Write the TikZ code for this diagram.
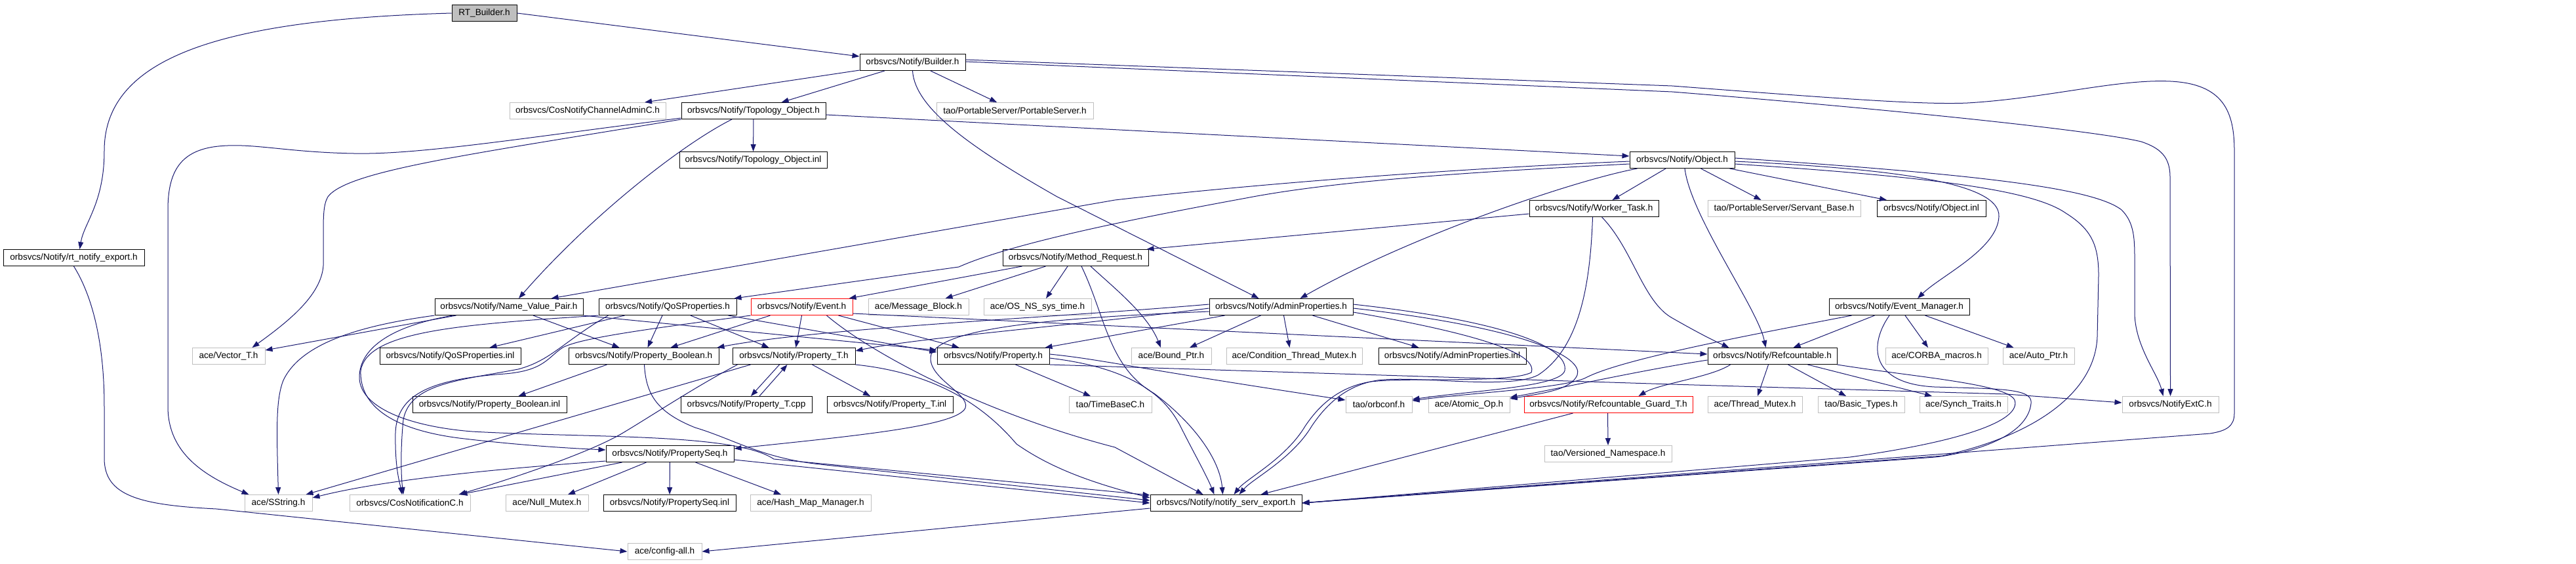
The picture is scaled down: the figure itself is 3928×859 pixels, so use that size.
\documentclass[tikz,border=0pt]{standalone}
\usepackage{fontspec}
\setmainfont{Liberation Sans}
\usetikzlibrary{arrows.meta,calc}
\definecolor{ecol}{HTML}{191970}
\definecolor{extgrey}{HTML}{BFBFBF}
\begin{document}
\begin{tikzpicture}[x=0.5pt,y=-0.5pt,
  box/.style={rectangle,draw=black,line width=0.5pt,inner sep=0pt,minimum height=12.5pt,font=\fontsize{6.8}{8}\selectfont,text=black},
  doc/.style={box},
  ext/.style={box,draw=extgrey},
  trunc/.style={box,draw=red},
  root/.style={box,fill=extgrey},
  wd/.style={minimum width=#1*0.5pt},
  e/.style={draw=ecol,line width=0.5pt,-{Triangle[length=5.5pt,width=4pt]}}]
\useasboundingbox (0,0) rectangle (3928,859);
% ---- nodes ----
\node[root,wd=99]  (rtb)      at (738.5,20)  {RT\_Builder.h};
\node[doc,wd=161]  (builder)  at (1391.5,95) {orbsvcs/Notify/Builder.h};
\node[ext,wd=238]  (cnca)     at (896,169)   {orbsvcs/CosNotifyChannelAdminC.h};
\node[doc,wd=220]  (topo)     at (1149,169)  {orbsvcs/Notify/Topology\_Object.h};
\node[ext,wd=239]  (pss)      at (1547.5,169){tao/PortableServer/PortableServer.h};
\node[doc,wd=225]  (topoinl)  at (1148.5,244){orbsvcs/Notify/Topology\_Object.inl};
\node[doc,wd=160]  (object)   at (2565,244)  {orbsvcs/Notify/Object.h};
\node[doc,wd=197]  (worker)   at (2430.5,318){orbsvcs/Notify/Worker\_Task.h};
\node[ext,wd=233]  (servant)  at (2720.5,318){tao/PortableServer/Servant\_Base.h};
\node[doc,wd=166]  (objinl)   at (2945,318)  {orbsvcs/Notify/Object.inl};
\node[doc,wd=215]  (rtexp)    at (112.5,393) {orbsvcs/Notify/rt\_notify\_export.h};
\node[doc,wd=222]  (methreq)  at (1640,393)  {orbsvcs/Notify/Method\_Request.h};
\node[doc,wd=226]  (nvp)      at (776,468)   {orbsvcs/Notify/Name\_Value\_Pair.h};
\node[doc,wd=210]  (qos)      at (1018,468)  {orbsvcs/Notify/QoSProperties.h};
\node[trunc,wd=155](event)    at (1222.5,468){orbsvcs/Notify/Event.h};
\node[ext,wd=153]  (msgblk)   at (1400.5,468){ace/Message\_Block.h};
\node[ext,wd=164]  (ostime)   at (1582,468)  {ace/OS\_NS\_sys\_time.h};
\node[doc,wd=219]  (admin)    at (1953.5,468){orbsvcs/Notify/AdminProperties.h};
\node[doc,wd=214]  (evmgr)    at (2896,468)  {orbsvcs/Notify/Event\_Manager.h};
\node[ext,wd=111]  (vector)   at (348.5,543) {ace/Vector\_T.h};
\node[doc,wd=215]  (qosinl)   at (686.5,543) {orbsvcs/Notify/QoSProperties.inl};
\node[doc,wd=229]  (propbool) at (981.5,543) {orbsvcs/Notify/Property\_Boolean.h};
\node[doc,wd=187]  (propt)    at (1210.5,543){orbsvcs/Notify/Property\_T.h};
\node[doc,wd=171]  (prop)     at (1514.5,543){orbsvcs/Notify/Property.h};
\node[ext,wd=122]  (boundptr) at (1786,543)  {ace/Bound\_Ptr.h};
\node[ext,wd=207]  (condmutex)at (1973.5,543){ace/Condition\_Thread\_Mutex.h};
\node[doc,wd=225]  (admininl) at (2214.5,543){orbsvcs/Notify/AdminProperties.inl};
\node[doc,wd=197]  (refc)     at (2702.5,543){orbsvcs/Notify/Refcountable.h};
\node[ext,wd=156]  (corba)    at (2953,543)  {ace/CORBA\_macros.h};
\node[ext,wd=109]  (autoptr)  at (3108.5,543){ace/Auto\_Ptr.h};
\node[doc,wd=235]  (propboolinl) at (746.5,617) {orbsvcs/Notify/Property\_Boolean.inl};
\node[doc,wd=200]  (proptcpp) at (1138,617)  {orbsvcs/Notify/Property\_T.cpp};
\node[doc,wd=192]  (proptinl) at (1357,617)  {orbsvcs/Notify/Property\_T.inl};
\node[ext,wd=126]  (timebase) at (1693,617)  {tao/TimeBaseC.h};
\node[ext,wd=101]  (orbconf)  at (2102.5,617){tao/orbconf.h};
\node[ext,wd=124]  (atomic)   at (2240,617)  {ace/Atomic\_Op.h};
\node[trunc,wd=257](guard)    at (2452.5,617){orbsvcs/Notify/Refcountable\_Guard\_T.h};
\node[ext,wd=144]  (threadmutex) at (2676,617) {ace/Thread\_Mutex.h};
\node[ext,wd=132]  (basictypes)  at (2838,617) {tao/Basic\_Types.h};
\node[ext,wd=134]  (synch)    at (2994,617)  {ace/Synch\_Traits.h};
\node[ext,wd=147]  (notifyext)at (3309.5,617){orbsvcs/NotifyExtC.h};
\node[doc,wd=195]  (propseq)  at (1021.5,692){orbsvcs/Notify/PropertySeq.h};
\node[ext,wd=194]  (versioned)at (2452,692)  {tao/Versioned\_Namespace.h};
\node[ext,wd=103]  (sstring)  at (424.5,767) {ace/SString.h};
\node[ext,wd=184]  (cosnotc)  at (625,767)   {orbsvcs/CosNotificationC.h};
\node[ext,wd=126]  (nullmutex)at (834,767)   {ace/Null\_Mutex.h};
\node[doc,wd=202]  (propseqinl) at (1021,767){orbsvcs/Notify/PropertySeq.inl};
\node[ext,wd=184]  (hashmap)  at (1236,767)  {ace/Hash\_Map\_Manager.h};
\node[doc,wd=231]  (servexp)  at (1869.5,767){orbsvcs/Notify/notify\_serv\_export.h};
\node[ext,wd=113]  (configall)at (1013.5,841){ace/config-all.h};
% ---- edges: RT_Builder / rt_notify_export ----
\draw[e] (rtb.east) -- ($(builder.west)+(0,-9)$);
\draw[e] (rtb.west) .. controls (330,30) and (159,90) .. (159,230) .. controls (159,310) and (128,340) .. ($(rtexp.north)+(9,0)$);
\draw[e] (rtexp.south) .. controls (140,450) and (159,520) .. (159,620) -- (159,700) .. controls (160,755) and (210,770) .. (330,776) -- (configall.west);
% ---- Builder ----
\draw[e] (builder) -- (cnca);
\draw[e] (builder) -- (topo);
\draw[e] (builder) -- (pss);
\draw[e] (builder.south) .. controls (1395,165) and (1480,225) .. (1612,300) -- ($(admin.north)+(-34,0)$);
\draw[e] ($(builder.east)+(0,-4)$) -- (2550,131) .. controls (2800,150) and (2930,160) .. (3000,157) .. controls (3120,150) and (3230,120) .. (3310,124) .. controls (3390,128) and (3407,170) .. (3407,230) -- (3407,630) .. controls (3407,650) and (3395,657) .. (3370,661) -- (servexp.east);
\draw[e] ($(builder.east)+(0,-1)$) -- (2550,140) .. controls (2900,168) and (3200,200) .. (3265,216) .. controls (3295,226) and (3309,240) .. (3309,270) -- (notifyext.north);
% ---- Topology_Object ----
\draw[e] (topo) -- (topoinl);
\draw[e] ($(topo.east)+(0,6)$) -- ($(object.west)+(0,-6)$);
\draw[e] ($(topo.south)+(-33,0)$) .. controls (1040,220) and (900,330) .. ($(nvp.north)+(15,0)$);
\draw[e] ($(topo.west)+(0,11)$) .. controls (800,210) and (640,236) .. (540,234) .. controls (430,232) and (380,216) .. (325,224) .. controls (275,232) and (256,262) .. (256,320) -- (256,620) .. controls (256,690) and (310,725) .. ($(sstring.north)+(-45,0)$);
\draw[e] ($(topo.west)+(0,13)$) .. controls (720,235) and (530,260) .. (500,300) .. controls (493,312) and (493,330) .. (493,360) -- (493,405) .. controls (490,450) and (440,490) .. ($(vector.north)+(36,0)$);
% ---- Object ----
\draw[e] ($(object.south)+(-25,0)$) -- ($(worker.north)+(28,0)$);
\draw[e] ($(object.south west)+(12,0)$) .. controls (2400,275) and (2150,360) .. ($(admin.north)+(29,0)$);
\draw[e] ($(object.west)+(0,2)$) .. controls (2200,258) and (1900,282) .. (1700,305) -- ($(nvp.north east)+(-49,0)$);
\draw[e] ($(object.west)+(0,6)$) .. controls (2250,262) and (2040,275) .. (1900,302) .. controls (1720,335) and (1540,372) .. (1462,407) -- ($(qos.north east)+(-4,0)$);
\draw[e] ($(object.south east)+(-52,0)$) -- ($(servant.north)+(-35,0)$);
\draw[e] ($(object.south east)+(-8,0)$) -- ($(objinl.north)+(-68,0)$);
\draw[e] ($(object.south)+(4,0)$) .. controls (2578,330) and (2680,470) .. ($(refc.north)+(-10,0)$);
\draw[e] ($(object.east)+(0,2)$) .. controls (2900,258) and (3050,280) .. (3048,330) .. controls (3046,380) and (2960,420) .. ($(evmgr.north)+(28,0)$);
\draw[e] ($(object.east)+(0,-3)$) .. controls (3000,265) and (3190,285) .. (3235,320) .. controls (3255,340) and (3255,365) .. (3255,400) -- (3255,480) .. controls (3257,530) and (3290,570) .. ($(notifyext.north)+(-11,0)$);
\draw[e] ($(object.east)+(0,6)$) .. controls (2950,270) and (3100,290) .. (3150,325) .. controls (3190,350) and (3200,375) .. (3200,420) -- (3198,513) .. controls (3195,600) and (3100,665) .. (2962,695) -- (servexp.east);
% ---- Worker_Task ----
\draw[e] ($(worker.west)+(0,8)$) -- ($(methreq.north east)+(-3,0)$);
\draw[e] ($(worker.south)+(12,0)$) .. controls (2490,380) and (2505,460) .. (2550,485) .. controls (2585,505) and (2610,518) .. ($(refc.north west)+(33,0)$);
\draw[e] ($(worker.south)+(-2,0)$) .. controls (2425,430) and (2410,530) .. (2345,572) .. controls (2300,595) and (2160,572) .. (2100,580) .. controls (2050,588) and (2020,620) .. (2000,650) .. controls (1970,700) and (1910,730) .. ($(servexp.north)+(20,0)$);
% ---- Method_Request ----
\draw[e] ($(methreq.south west)+(30,0)$) -- ($(event.north east)+(-6,0)$);
\draw[e] ($(methreq.south west)+(66,0)$) -- ($(msgblk.north)+(41,0)$);
\draw[e] ($(methreq.south)+(-12,0)$) -- ($(ostime.north)+(13,0)$);
\draw[e] ($(methreq.south)+(23,0)$) .. controls (1700,440) and (1750,480) .. ($(boundptr.north)+(-16,0)$);
\draw[e] ($(methreq.south)+(9,0)$) .. controls (1685,480) and (1690,560) .. (1760,600) .. controls (1820,645) and (1860,700) .. ($(servexp.north)+(-5,0)$);
% ---- Event ----
\draw[e] ($(event.south west)+(30,0)$) -- ($(propbool.north)+(41,0)$);
\draw[e] (event.south) -- ($(propt.north)+(3,0)$);
\draw[e] ($(event.south east)+(-22,0)$) -- ($(prop.north west)+(34,0)$);
\draw[e] ($(event.east)+(0,10)$) -- ($(refc.west)+(0,-3)$);
\draw[e] ($(event.south east)+(-40,0)$) .. controls (1330,540) and (1500,630) .. (1700,682) -- ($(servexp.north west)+(81,0)$);
\draw[e] (event.south west) .. controls (1000,500) and (885,515) .. (858,530) .. controls (835,545) and (830,565) .. (770,570) .. controls (660,578) and (605,600) .. (603,660) .. controls (602,715) and (610,738) .. ($(cosnotc.north)+(-12,0)$);
% ---- AdminProperties ----
\draw[e] ($(admin.south)+(-31,0)$) -- ($(boundptr.north)+(28,0)$);
\draw[e] ($(admin.south)+(4,0)$) -- ($(condmutex.north)+(-7,0)$);
\draw[e] ($(admin.south east)+(-62,0)$) -- ($(admininl.north)+(-51,0)$);
\draw[e] ($(admin.west)+(0,-4)$) .. controls (1600,485) and (1250,500) .. ($(propbool.north east)+(-3,0)$);
\draw[e] ($(admin.west)+(0,2)$) .. controls (1650,495) and (1400,515) .. ($(propt.east)+(0,-8)$);
\draw[e] ($(admin.south west)+(24,0)$) -- ($(prop.north east)+(-7,0)$);
\draw[e] ($(admin.west)+(0,7)$) .. controls (1600,485) and (1440,500) .. (1420,540) .. controls (1410,575) and (1480,600) .. (1472,622) .. controls (1460,650) and (1300,665) .. ($(propseq.east)+(0,-8)$);
\draw[e] ($(admin.east)+(0,-4)$) .. controls (2300,490) and (2392,530) .. (2386,565) .. controls (2380,590) and (2250,595) .. ($(orbconf.east)+(0,-8)$);
\draw[e] ($(admin.east)+(0,2)$) .. controls (2330,500) and (2415,545) .. (2405,572) .. controls (2395,595) and (2350,600) .. ($(atomic.east)+(0,-9)$);
\draw[e] ($(admin.east)+(0,8)$) .. controls (2260,510) and (2345,540) .. (2335,568) .. controls (2300,585) and (2150,575) .. (2090,582) .. controls (2040,590) and (2010,620) .. (1990,650) .. controls (1960,700) and (1900,730) .. ($(servexp.north)+(12,0)$);
% ---- Refcountable ----
\draw[e] ($(refc.west)+(0,6)$) .. controls (2500,565) and (2380,592) .. ($(atomic.east)+(0,-11)$);
\draw[e] ($(refc.south west)+(35,0)$) .. controls (2610,575) and (2530,585) .. ($(guard.north)+(46,0)$);
\draw[e] ($(refc.south)+(-6,0)$) -- ($(threadmutex.north)+(4,0)$);
\draw[e] ($(refc.south)+(24,0)$) -- ($(basictypes.north)+(-23,0)$);
\draw[e] ($(refc.south east)+(-45,0)$) -- ($(synch.north)+(-48,0)$);
\draw[e] (refc.south east) .. controls (2920,575) and (3060,585) .. (3072,610) .. controls (3082,640) and (3000,672) .. (2821,697) -- (servexp.east);
% ---- Event_Manager ----
\draw[e] ($(evmgr.south west)+(70,0)$) -- ($(refc.north)+(32,0)$);
\draw[e] ($(evmgr.south)+(9,0)$) -- ($(corba.north)+(-13,0)$);
\draw[e] ($(evmgr.south east)+(-68,0)$) -- ($(autoptr.north)+(-38,0)$);
\draw[e] ($(evmgr.south west)+(35,0)$) .. controls (2700,505) and (2480,545) .. (2420,575) .. controls (2390,592) and (2250,598) .. ($(orbconf.east)+(0,-6)$);
\draw[e] ($(evmgr.south)+(-15,0)$) .. controls (2850,525) and (2850,585) .. (2950,590) .. controls (3050,593) and (3100,592) .. (3097,615) .. controls (3092,665) and (3010,690) .. (2951,697) -- (servexp.east);
% ---- Refcountable_Guard_T ----
\draw[e] ($(guard.south)+(-1,0)$) -- (versioned.north);
\draw[e] ($(guard.south west)+(75,0)$) -- ($(servexp.north east)+(-63,0)$);
% ---- Name_Value_Pair ----
\draw[e] (nvp.south west) .. controls (560,495) and (460,520) .. (432,580) .. controls (420,610) and (422,660) .. (sstring.north);
\draw[e] ($(nvp.south west)+(33,0)$) -- ($(vector.east)+(0,-9)$);
\draw[e] ($(nvp.south)+(37,0)$) -- ($(propbool.north west)+(78,0)$);
\draw[e] (nvp.south east) -- ($(prop.west)+(0,-9)$);
\draw[e] ($(nvp.south west)+(28,0)$) .. controls (580,500) and (548,540) .. (548,575) .. controls (548,620) and (620,650) .. (720,658) .. controls (900,668) and (1120,660) .. (1180,700) -- ($(servexp.west)+(0,-12)$);
% ---- QoSProperties ----
\draw[e] ($(qos.south west)+(40,0)$) -- ($(qosinl.north)+(60,0)$);
\draw[e] ($(qos.south)+(-8,0)$) -- ($(propbool.north)+(6,0)$);
\draw[e] ($(qos.south)+(35,0)$) -- ($(propt.north)+(-38,0)$);
\draw[e] ($(qos.south east)+(-13,0)$) -- ($(prop.west)+(0,-6)$);
\draw[e] (qos.south west) .. controls (700,495) and (560,505) .. (550,565) .. controls (548,620) and (600,655) .. (700,668) .. controls (800,680) and (880,684) .. ($(propseq.west)+(0,-6)$);
\draw[e] ($(qos.south west)+(15,0)$) .. controls (860,520) and (840,550) .. (790,563) .. controls (700,580) and (625,585) .. (615,640) .. controls (610,690) and (612,730) .. ($(cosnotc.north)+(-10,0)$);
% ---- Property_Boolean ----
\draw[e] ($(propbool.south west)+(59,0)$) -- ($(propboolinl.north)+(44,0)$);
\draw[e] ($(propbool.south)+(1,0)$) .. controls (985,600) and (1000,628) .. (1060,652) .. controls (1120,670) and (1160,698) .. (1250,708) -- ($(servexp.west)+(0,-4)$);
% ---- Property_T ----
\draw[e] ($(propt.south)+(-22,0)$) -- ($(proptcpp.north)+(7,0)$);
\draw[e] ($(proptcpp.north)+(20,0)$) -- ($(propt.south)+(-10,0)$);
\draw[e] ($(propt.south)+(28,0)$) -- ($(proptinl.north)+(-30,0)$);
\draw[e] ($(propt.south west)+(28,0)$) -- ($(sstring.north east)+(-10,0)$);
\draw[e] ($(propt.south west)+(8,0)$) .. controls (1060,590) and (1000,630) .. (950,660) .. controls (900,690) and (780,730) .. ($(cosnotc.north east)+(-18,0)$);
\draw[e] (propt.south east) .. controls (1440,570) and (1510,630) .. (1550,677) .. controls (1600,712) and (1660,735) .. ($(servexp.west)+(0,-8)$);
% ---- PropertySeq ----
\draw[e] ($(propseq.south)+(-36,0)$) -- ($(nullmutex.north)+(32,0)$);
\draw[e] (propseq) -- (propseqinl);
\draw[e] ($(propseq.south)+(39,0)$) -- ($(hashmap.north)+(-45,0)$);
\draw[e] ($(propseq.south west)+(0,-2)$) .. controls (800,712) and (600,728) .. ($(sstring.east)+(0,-8)$);
\draw[e] ($(propseq.south west)+(25,0)$) -- ($(cosnotc.north east)+(-16,0)$);
\draw[e] ($(propseq.east)+(0,9)$) -- (servexp.west);
% ---- Property ----
\draw[e] ($(prop.south)+(34,0)$) -- ($(timebase.north)+(-30,0)$);
\draw[e] ($(prop.east)+(0,-3)$) .. controls (1680,548) and (1720,560) .. ($(orbconf.west)+(0,-7)$);
\draw[e] ($(prop.east)+(0,3)$) .. controls (1720,560) and (1775,600) .. (1800,650) .. controls (1820,690) and (1840,725) .. ($(servexp.north west)+(98,0)$);
\draw[e] (prop.south east) -- (2550,586) -- (3060,601) -- ($(notifyext.west)+(0,-3)$);
% ---- notify_serv_export ----
\draw[e] ($(servexp.west)+(0,8)$) -- (configall.east);
\end{tikzpicture}
\end{document}
